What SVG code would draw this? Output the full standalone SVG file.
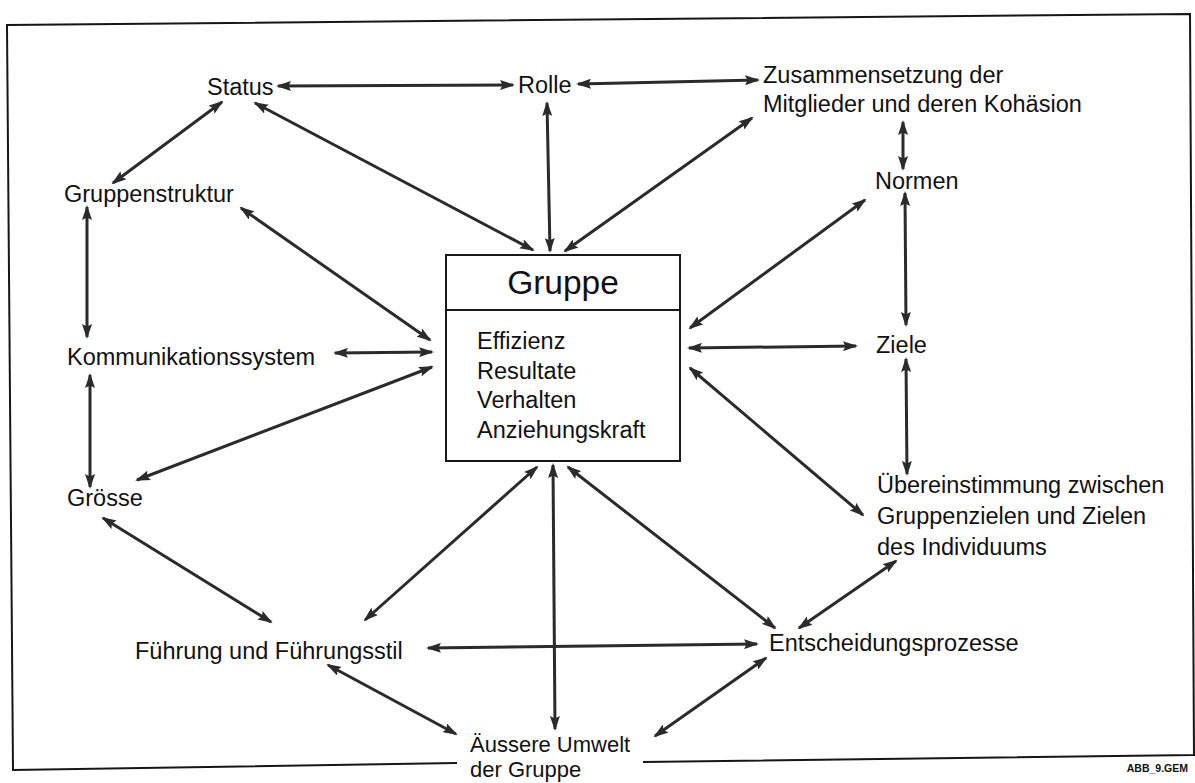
<svg xmlns="http://www.w3.org/2000/svg" width="1195" height="783" viewBox="0 0 1195 783">
  <style>
    .lbl { font-family: "Liberation Sans", Arial, sans-serif; font-size: 23.5px; fill: #111; }
    .low { font-size: 22px; }
    .title { font-family: "Liberation Sans", Arial, sans-serif; font-size: 33.5px; fill: #111; }
    .tag { font-family: "Liberation Sans", Arial, sans-serif; font-size: 10.5px; font-weight: bold; fill: #111; }
    .frame { fill: none; stroke: #161616; stroke-width: 2; }
    .box { fill: #fff; stroke: #1a1a1a; stroke-width: 2; }
    .link { fill: none; stroke: #2b2b2b; stroke-width: 3; marker-start: url(#head); marker-end: url(#head); }
  </style>
  <defs>
    <marker id="head" viewBox="0 0 15 10" markerUnits="userSpaceOnUse" markerWidth="15" markerHeight="10" refX="13" refY="5" orient="auto-start-reverse">
      <path d="M0,0 L15,5 L0,10 L2.5,5 z" fill="#2b2b2b"/>
    </marker>
  </defs>
  <rect width="1195" height="783" fill="#fff"/>

  <!-- outer frame, open at the bottom where the last label sits -->
  <g id="frame">
    <path class="frame" d="M457,763 L13,770 L7,25 L1190,14 L1194,755 L643,762"/>
  </g>

  <g id="connectors">
    <line class="link" x1="278" y1="86" x2="513" y2="85"/>
    <line class="link" x1="578" y1="84" x2="758" y2="80"/>
    <line class="link" x1="222" y1="102" x2="113" y2="183"/>
    <line class="link" x1="255" y1="103" x2="533" y2="250"/>
    <line class="link" x1="547" y1="103" x2="550" y2="251"/>
    <line class="link" x1="752" y1="118" x2="565" y2="251"/>
    <line class="link" x1="903" y1="122" x2="903" y2="169"/>
    <line class="link" x1="905" y1="193" x2="906" y2="325"/>
    <line class="link" x1="865" y1="200" x2="690" y2="328"/>
    <line class="link" x1="689" y1="348" x2="856" y2="346"/>
    <line class="link" x1="906" y1="359" x2="907" y2="474"/>
    <line class="link" x1="690" y1="368" x2="863" y2="515"/>
    <line class="link" x1="896" y1="561" x2="799" y2="628"/>
    <line class="link" x1="568" y1="467" x2="775" y2="628"/>
    <line class="link" x1="428" y1="648" x2="757" y2="644"/>
    <line class="link" x1="766" y1="658" x2="655" y2="736"/>
    <line class="link" x1="328" y1="665" x2="456" y2="734"/>
    <line class="link" x1="553" y1="465" x2="555" y2="729"/>
    <line class="link" x1="537" y1="467" x2="365" y2="620"/>
    <line class="link" x1="103" y1="518" x2="271" y2="622"/>
    <line class="link" x1="432" y1="367" x2="137" y2="480"/>
    <line class="link" x1="432" y1="352" x2="335" y2="353"/>
    <line class="link" x1="430" y1="340" x2="241" y2="208"/>
    <line class="link" x1="87" y1="207" x2="87" y2="337"/>
    <line class="link" x1="90" y1="375" x2="90" y2="487"/>
  </g>

  <g id="gruppe">
    <rect class="box" x="446" y="255" width="234" height="206"/>
    <line x1="446" y1="310" x2="680" y2="310" stroke="#1a1a1a" stroke-width="2"/>
    <text class="title" x="563" y="294" text-anchor="middle">Gruppe</text>
    <text class="lbl" x="477" y="349">Effizienz</text>
    <text class="lbl" x="477" y="378.5">Resultate</text>
    <text class="lbl" x="477" y="408">Verhalten</text>
    <text class="lbl" x="477" y="437.5">Anziehungskraft</text>
  </g>

  <g id="status"><text class="lbl" x="207" y="95">Status</text></g>
  <g id="rolle"><text class="lbl" x="518" y="93">Rolle</text></g>
  <g id="zusammensetzung">
    <text class="lbl" x="763" y="83">Zusammensetzung der</text>
    <text class="lbl" x="763" y="112">Mitglieder und deren Kohäsion</text>
  </g>
  <g id="normen"><text class="lbl" x="875" y="189">Normen</text></g>
  <g id="gruppenstruktur"><text class="lbl" x="64" y="202">Gruppenstruktur</text></g>
  <g id="kommunikationssystem"><text class="lbl" x="67" y="365">Kommunikationssystem</text></g>
  <g id="groesse"><text class="lbl" x="67" y="506">Grösse</text></g>
  <g id="ziele"><text class="lbl" x="876" y="353">Ziele</text></g>
  <g id="uebereinstimmung">
    <text class="lbl" x="877" y="493">Übereinstimmung zwischen</text>
    <text class="lbl" x="877" y="524">Gruppenzielen und Zielen</text>
    <text class="lbl" x="877" y="555">des Individuums</text>
  </g>
  <g id="entscheidungsprozesse"><text class="lbl" x="769" y="651">Entscheidungsprozesse</text></g>
  <g id="fuehrung"><text class="lbl" x="135" y="659">Führung und Führungsstil</text></g>
  <g id="umwelt">
    <text class="lbl low" x="470" y="752">Äussere Umwelt</text>
    <text class="lbl low" x="470" y="777">der Gruppe</text>
  </g>

  <text class="tag" x="1188" y="772" text-anchor="end">ABB_9.GEM</text>
</svg>
